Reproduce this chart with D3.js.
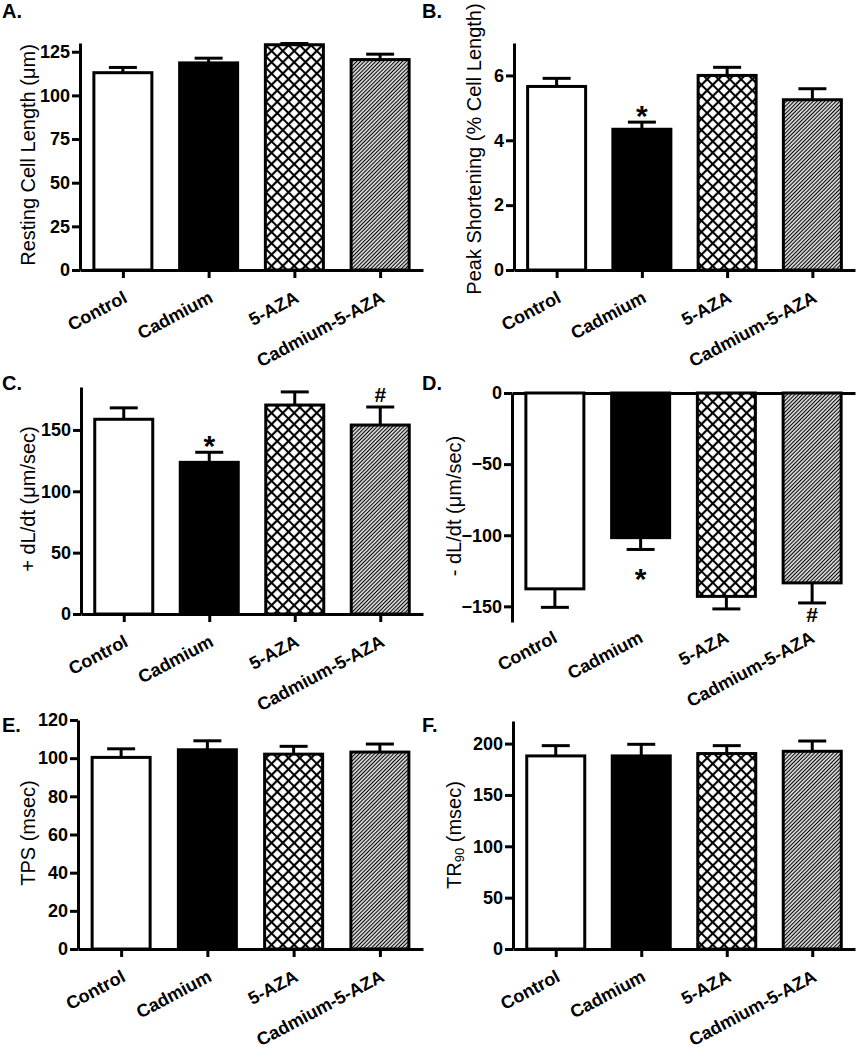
<!DOCTYPE html>
<html>
<head>
<meta charset="utf-8">
<script src="https://cdn.jsdelivr.net/npm/d3@7"></script>
<style>
  body { margin: 0; background: #fff; }
  text { font-family: "Liberation Sans", Arial, sans-serif; fill: #000; }
</style>
</head>
<body>
<div class="chart"></div>
<script>
// groups and bar fills
var groups = ["Control", "Cadmium", "5-AZA", "Cadmium-5-AZA"];

// mean and SEM for each panel
var restLength = [113, 118.6, 129, 120.5];
var restLengthErr = [3, 2.7, 0.7, 3.1];

var peakShort = [5.66, 4.34, 6.0, 5.25];
var peakShortErr = [0.25, 0.22, 0.25, 0.34];

var plusDLdt = [158.7, 123.6, 170.3, 154];
var plusDLdtErr = [9.3, 8.2, 10.7, 14.7];

var minusDLdt = [-137.7, -101.7, -143, -133.5];
var minusDLdtErr = [13, 8.3, 8.8, 14.1];

var tps = [100.4, 104.4, 102.1, 103.2];
var tpsErr = [4.5, 4.7, 4.1, 4.2];

var tr90 = [188, 188, 190.3, 192.5];
var tr90Err = [10, 11.3, 7.7, 10];

// significance marks
var noMarks = ["", "", "", ""];
var marksB = ["", "*", "", ""];
var marksC = ["", "*", "", "#"];
var marksD = ["", "*", "", "#"];

// tick values
var ticksA = [0, 25, 50, 75, 100, 125];
var ticksB = [0, 2, 4, 6];
var ticksC = [0, 50, 100, 150];
var ticksD = [-150, -100, -50, 0];
var ticksE = [0, 20, 40, 60, 80, 100, 120];
var ticksF = [0, 50, 100, 150, 200];

var panels = [
  { letter: "A.", values: restLength, errors: restLengthErr, marks: noMarks, ticks: ticksA, label: [["Resting Cell Length (μm)", false]] },
  { letter: "B.", values: peakShort, errors: peakShortErr, marks: marksB, ticks: ticksB, label: [["Peak Shortening (% Cell Length)", false]] },
  { letter: "C.", values: plusDLdt, errors: plusDLdtErr, marks: marksC, ticks: ticksC, label: [["+ dL/dt (μm/sec)", false]] },
  { letter: "D.", values: minusDLdt, errors: minusDLdtErr, marks: marksD, ticks: ticksD, label: [["- dL/dt (μm/sec)", false]] },
  { letter: "E.", values: tps, errors: tpsErr, marks: noMarks, ticks: ticksE, label: [["TPS (msec)", false]] },
  { letter: "F.", values: tr90, errors: tr90Err, marks: noMarks, ticks: ticksF, label: [["TR", false], ["90", true], [" (msec)", false]] }
];

// layout of each panel (pixels)
var layout = [
  { x0: 80, x1: 423, yTop: 43, yBottom: 270, domain: [0, 130], tx: 28, ty: 155, lx: 2, ly: 18 },
  { x0: 514, x1: 855, yTop: 43, yBottom: 270, domain: [0, 7], tx: 474, ty: 149, lx: 422, ly: 18 },
  { x0: 81, x1: 423, yTop: 387, yBottom: 614, domain: [0, 185], tx: 28, ty: 499, lx: 2, ly: 390 },
  { x0: 512, x1: 855, yTop: 393, yBottom: 622, domain: [-161, 0], tx: 454, ty: 506, lx: 422, ly: 390 },
  { x0: 78, x1: 423, yTop: 720, yBottom: 949, domain: [0, 120], tx: 28, ty: 833, lx: 2, ly: 732 },
  { x0: 513, x1: 855, yTop: 721, yBottom: 949, domain: [0, 222], tx: 454, ty: 835, lx: 422, ly: 732 }
];

var fills = ["#fff", "#000", "url(#xhatch)", "url(#diag)"];
var barWidth = 58;
var capWidth = 28;
var lineW = 3;

var svg = d3.select(".chart")
  .append("svg")
  .attr("width", 857)
  .attr("height", 1050);

// hatch patterns
var defs = svg.append("defs");

var xh = defs.append("pattern")
  .attr("id", "xhatch")
  .attr("patternUnits", "userSpaceOnUse")
  .attr("width", 8)
  .attr("height", 8)
  .attr("patternTransform", "rotate(45)");
xh.append("rect").attr("width", 8).attr("height", 8).attr("fill", "#fff");
xh.append("path")
  .attr("d", "M0,4H8M4,0V8")
  .attr("stroke", "#000")
  .attr("stroke-width", 2.2);

var dg = defs.append("pattern")
  .attr("id", "diag")
  .attr("patternUnits", "userSpaceOnUse")
  .attr("width", 2.7)
  .attr("height", 10)
  .attr("patternTransform", "rotate(45)");
dg.append("rect").attr("width", 2.7).attr("height", 10).attr("fill", "#fff");
dg.append("line")
  .attr("x1", 1.35).attr("x2", 1.35)
  .attr("y1", 0).attr("y2", 10)
  .attr("stroke", "#000")
  .attr("stroke-width", 1.25);

function styleAxis(sel) {
  sel.attr("font-size", 18)
    .attr("font-weight", "bold")
    .attr("font-family", "'Liberation Sans', Arial, sans-serif");
  sel.selectAll("path, line")
    .attr("stroke", "#000")
    .attr("stroke-width", lineW);
  sel.selectAll("text").attr("fill", "#000");
}

function rotateLabels(sel, dx, dy) {
  sel.selectAll(".tick text")
    .attr("text-anchor", "end")
    .attr("x", 0)
    .attr("y", 0)
    .attr("dy", "0.71em")
    .attr("transform", `translate(${dx}, ${dy}) rotate(-28)`);
}

panels.forEach(function (p, i) {
  var L = layout[i];
  var g = svg.append("g");
  var negative = L.domain[1] <= 0;

  var x = d3.scalePoint().domain(groups).range([L.x0, L.x1]).padding(0.5);
  var y = d3.scaleLinear().domain(L.domain).range([L.yBottom, L.yTop]);
  var zeroY = y(0);

  // y axis
  g.append("g")
    .attr("transform", `translate(${L.x0}, 0)`)
    .call(d3.axisLeft(y).tickValues(p.ticks).tickFormat(d3.format("d"))
      .tickSize(8).tickSizeOuter(0).tickPadding(2))
    .call(styleAxis);

  // x axis at zero
  if (!negative) {
    g.append("g")
      .attr("transform", `translate(0, ${zeroY})`)
      .call(d3.axisBottom(x).tickSize(8).tickSizeOuter(0))
      .call(styleAxis)
      .call(rotateLabels, -1, 20);
  } else {
    g.append("g")
      .attr("transform", `translate(0, ${zeroY})`)
      .call(d3.axisBottom(x).tickSize(0).tickSizeOuter(0).tickFormat(""))
      .call(styleAxis);
    // category labels under the plot
    var lab = g.append("g")
      .attr("transform", `translate(0, ${L.yBottom})`)
      .call(d3.axisBottom(x).tickSize(0).tickSizeOuter(0))
      .call(styleAxis)
      .call(rotateLabels, -3, 8);
    lab.select(".domain").remove();
  }

  // bars
  g.selectAll(".bar")
    .data(p.values)
    .enter()
    .append("rect")
    .attr("class", "bar")
    .attr("x", (d, j) => x(groups[j]) - barWidth / 2)
    .attr("y", d => Math.min(y(d), zeroY))
    .attr("width", barWidth)
    .attr("height", d => Math.abs(y(d) - zeroY))
    .attr("fill", (d, j) => fills[j])
    .attr("stroke", "#000")
    .attr("stroke-width", lineW);

  // error bars (one sided)
  p.values.forEach(function (v, j) {
    var cx = x(groups[j]);
    var end = negative ? v - p.errors[j] : v + p.errors[j];
    g.append("line")
      .attr("x1", cx).attr("x2", cx)
      .attr("y1", y(v)).attr("y2", y(end))
      .attr("stroke", "#000").attr("stroke-width", lineW);
    g.append("line")
      .attr("x1", cx - capWidth / 2).attr("x2", cx + capWidth / 2)
      .attr("y1", y(end)).attr("y2", y(end))
      .attr("stroke", "#000").attr("stroke-width", lineW);

    var m = p.marks[j];
    if (m) {
      var off;
      if (m == "*") off = negative ? 40 : 4;
      else off = negative ? 19 : -5;
      g.append("text")
        .attr("x", cx)
        .attr("y", y(end) + off)
        .attr("text-anchor", "middle")
        .attr("font-weight", "bold")
        .attr("font-size", m == "*" ? 30 : 21)
        .text(m);
    }
  });

  // y axis title
  var t = g.append("text")
    .attr("transform", `translate(${L.tx}, ${L.ty}) rotate(-90)`)
    .attr("text-anchor", "middle")
    .attr("dy", "0.35em")
    .attr("font-size", 20);
  p.label.forEach(function (part) {
    var ts = t.append("tspan").text(part[0]);
    if (part[1]) ts.attr("font-size", 13).attr("baseline-shift", "-25%");
  });

  // panel letter
  g.append("text")
    .attr("x", L.lx)
    .attr("y", L.ly)
    .attr("font-size", 20)
    .attr("font-weight", "bold")
    .text(p.letter);
});
</script>
</body>
</html>
